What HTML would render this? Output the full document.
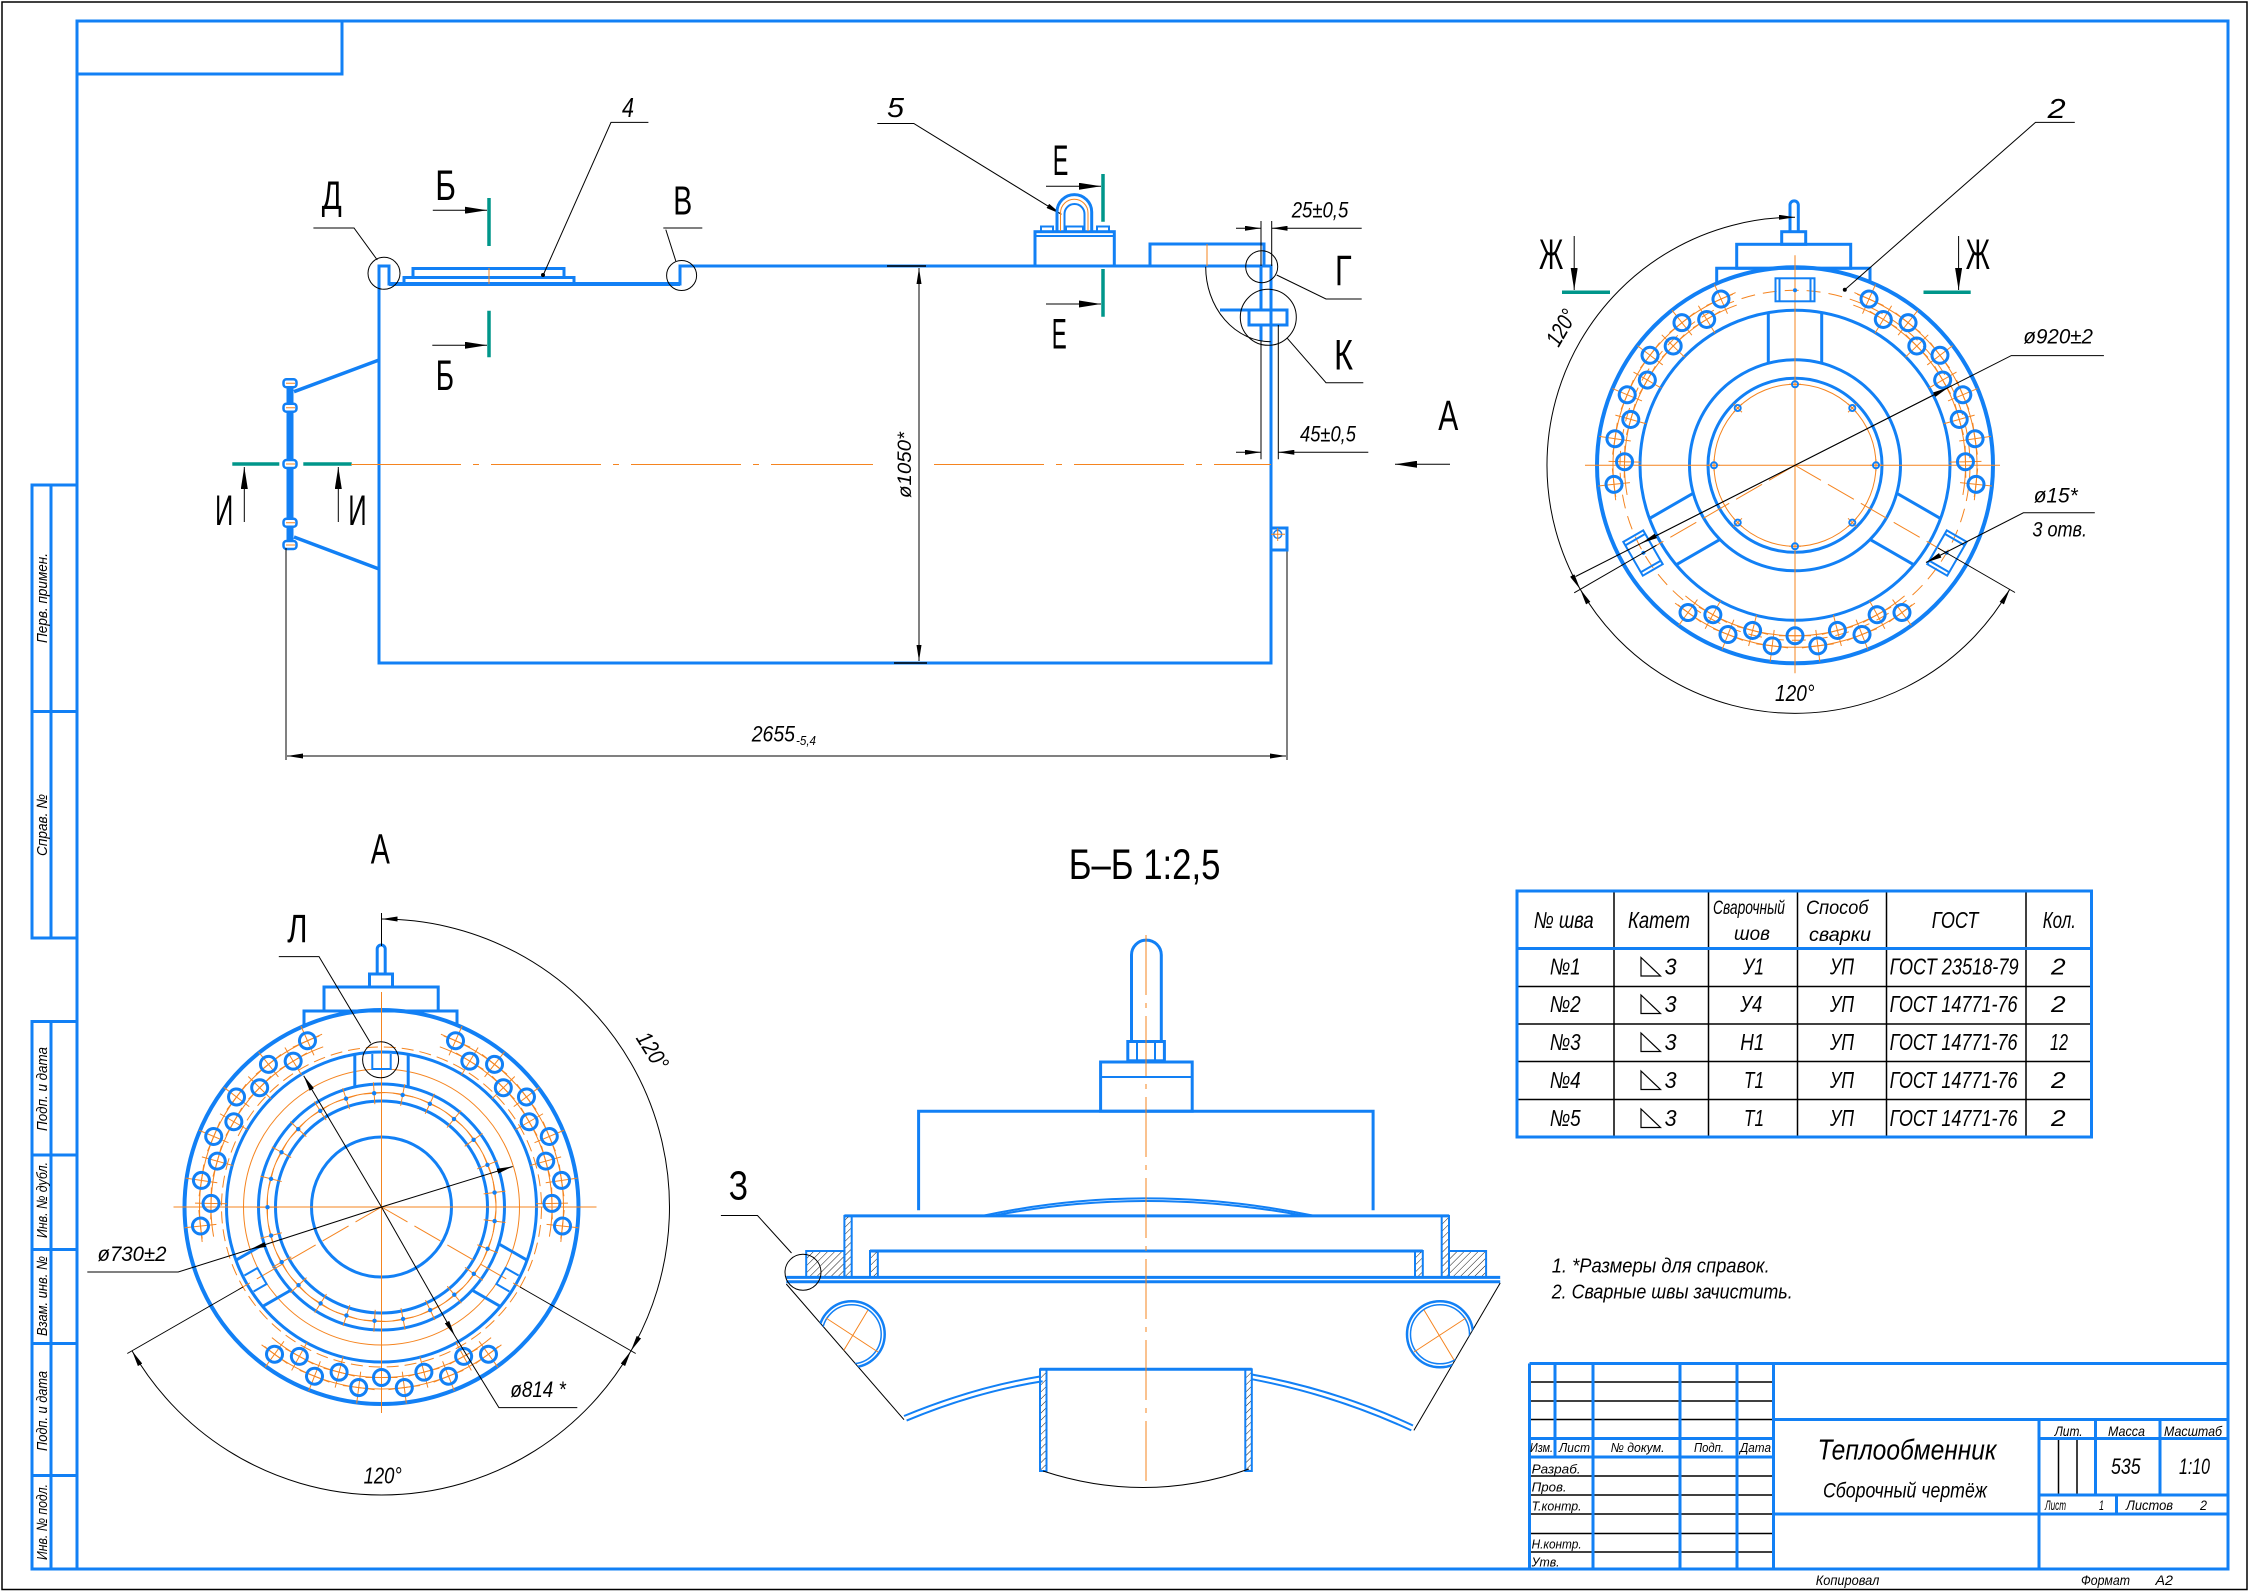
<!DOCTYPE html>
<html><head><meta charset="utf-8">
<style>
html,body{margin:0;padding:0;background:#fff;}
svg{display:block;}
.b{stroke:#1280f5;fill:none;stroke-width:3;}
.b2{stroke:#1280f5;fill:none;stroke-width:2;}
.b4{stroke:#1280f5;fill:none;stroke-width:4;}
.k{stroke:#000;fill:none;stroke-width:1;}
.kk{stroke:#000;fill:none;stroke-width:1.5;}
.o{stroke:#f5841f;fill:none;stroke-width:1;}
.t{stroke:#00968a;fill:none;stroke-width:3.5;}
.L{font-family:"Liberation Sans","DejaVu Sans",sans-serif;fill:#000;}
.I{font-family:"Liberation Sans","DejaVu Sans",sans-serif;font-style:italic;fill:#000;}
</style></head>
<body>
<svg xmlns="http://www.w3.org/2000/svg" xmlns:xlink="http://www.w3.org/1999/xlink" width="2249" height="1592" viewBox="0 0 2249 1592">
<defs>
<marker id="ar" viewBox="0 0 16 5" refX="16" refY="2.5" markerWidth="16" markerHeight="5" orient="auto-start-reverse" markerUnits="userSpaceOnUse"><path d="M0,0 L16,2.5 L0,5 Z" fill="#000"/></marker>
<marker id="as" viewBox="0 0 22 7" refX="22" refY="3.5" markerWidth="22" markerHeight="7" orient="auto-start-reverse" markerUnits="userSpaceOnUse"><path d="M0,0 L22,3.5 L0,7 Z" fill="#000"/></marker>
<pattern id="h" width="5" height="5" patternUnits="userSpaceOnUse" patternTransform="rotate(45)"><line x1="0" y1="0" x2="0" y2="5" stroke="#000" stroke-width="0.9"/></pattern>
<clipPath id="cone"><polygon points="786.3,1284 904,1419.7 1146,1500 1413.9,1430.4 1500.2,1283"/></clipPath>
<g id="ho"><path class="o" d="M-16,0H16M0,-16V16"/><circle r="8" fill="none" stroke="#1280f5" stroke-width="3"/></g>
<g id="hg">
<path class="o" d="M130.6,-109.6 A170.5,170.5 0 0 1 130.6,109.6"/>
<path class="o" d="M139.4,-117 A182,182 0 0 1 139.4,117"/>
<use href="#ho" x="170.5"/>
<use href="#ho" x="182" transform="rotate(7.2)"/>
<use href="#ho" x="182" transform="rotate(-7.2)"/>
<use href="#ho" x="170.5" transform="rotate(14.4)"/>
<use href="#ho" x="170.5" transform="rotate(-14.4)"/>
<use href="#ho" x="182" transform="rotate(21.6)"/>
<use href="#ho" x="182" transform="rotate(-21.6)"/>
<use href="#ho" x="170.5" transform="rotate(28.8)"/>
<use href="#ho" x="170.5" transform="rotate(-28.8)"/>
<use href="#ho" x="182" transform="rotate(36)"/>
<use href="#ho" x="182" transform="rotate(-36)"/>
</g>
<g id="arm1"><path class="b" d="M102,-26.7 H152.7 M102,26.7 H152.7"/></g>
<g id="brk"><rect class="b2" x="164" y="-19.5" width="23" height="39"/><path class="b2" d="M164,-15.5 H187 M164,15.5 H187"/><circle cx="175" cy="0" r="2" fill="#1280f5"/></g>
<g id="arm2"><path class="b" d="M120,-26.7 H152.7 M120,26.7 H152.7"/><path class="b2" d="M153,-9.2 H138 V9.2 H153"/></g>
<g id="mk"><path class="o" d="M103,0 H125 M114,-11 V11"/><circle cx="114" cy="0" r="2.2" fill="#1280f5"/></g>
<g id="bm"><path class="o" d="M-6,0H6M0,-6V6"/><circle r="3" fill="none" stroke="#1280f5" stroke-width="2"/></g>
</defs>

<rect x="0" y="0" width="2249" height="1592" fill="#fff"/>
<!-- outer frames -->
<rect x="2" y="2" width="2245" height="1587.5" fill="none" stroke="#000" stroke-width="1.5"/>
<rect class="b" x="77" y="21" width="2151" height="1548"/>
<rect class="b" x="77" y="21" width="265" height="53"/>

<!-- left column -->
<rect class="b" x="32" y="485" width="45" height="453"/>
<path class="b" d="M32,711.5 H77 M51,485 V938"/>
<rect class="b" x="32" y="1021.5" width="45" height="547.5"/>
<path class="b" d="M32,1155 H77 M32,1249.5 H77 M32,1343.5 H77 M32,1475.5 H77 M51,1021.5 V1569"/>
<g class="I" font-size="15">
<text transform="translate(47,598) rotate(-90)" text-anchor="middle" textLength="90" lengthAdjust="spacingAndGlyphs">Перв. примен.</text>
<text transform="translate(47,825) rotate(-90)" text-anchor="middle" textLength="62" lengthAdjust="spacingAndGlyphs">Справ. №</text>
<text transform="translate(47,1089) rotate(-90)" text-anchor="middle" textLength="84" lengthAdjust="spacingAndGlyphs">Подп. и дата</text>
<text transform="translate(47,1200) rotate(-90)" text-anchor="middle" textLength="76" lengthAdjust="spacingAndGlyphs">Инв. № дубл.</text>
<text transform="translate(47,1296) rotate(-90)" text-anchor="middle" textLength="80" lengthAdjust="spacingAndGlyphs">Взам. инв. №</text>
<text transform="translate(47,1411) rotate(-90)" text-anchor="middle" textLength="80" lengthAdjust="spacingAndGlyphs">Подп. и дата</text>
<text transform="translate(47,1522) rotate(-90)" text-anchor="middle" textLength="76" lengthAdjust="spacingAndGlyphs">Инв. № подл.</text>
</g>

<!-- ================= MAIN VIEW ================= -->
<path class="b" d="M379,663 L379,266 L389,266 L389,284 L680,284 L680,266 L1271,266 L1271,663 Z"/>
<path class="b4" d="M389,284 H680"/>
<rect class="b" x="404" y="277.5" width="170" height="6.5"/>
<rect class="b" x="413" y="268.5" width="151" height="9"/>
<path class="o" d="M489,268 V284"/>
<!-- left flange -->
<path d="M294,391.7 L379,360 M294,537 L379,569" stroke="#1280f5" stroke-width="3.5" fill="none"/>
<line x1="290" y1="380" x2="290" y2="548" stroke="#1280f5" stroke-width="7"/>
<g fill="#fff" stroke="#1280f5" stroke-width="2.5">
<rect x="283.5" y="379.3" width="13" height="8" rx="3"/>
<rect x="283.5" y="403.7" width="13" height="8" rx="3"/>
<rect x="283.5" y="460" width="13" height="8" rx="3"/>
<rect x="283.5" y="518.7" width="13" height="8" rx="3"/>
<rect x="283.5" y="541" width="13" height="8" rx="3"/>
</g>
<path class="o" d="M286,383.3H295 M286,407.7H295 M286,464H295 M286,522.7H295 M286,545H295"/>
<!-- И section -->
<path class="t" d="M232.3,464 H279.3 M303.3,464 H351.7"/>
<path class="k" d="M244.3,522 V467" marker-end="url(#as)"/>
<path class="k" d="M338.3,522 V467" marker-end="url(#as)"/>
<text x="215" y="525" class="L" font-size="43" textLength="18.3" lengthAdjust="spacingAndGlyphs">И</text>
<text x="348.3" y="525" class="L" font-size="43" textLength="18.4" lengthAdjust="spacingAndGlyphs">И</text>
<!-- centerline -->
<path class="o" d="M351,464.5 H873 M934,464.5 H1271" stroke-dasharray="110 12 6 12"/>
<!-- Ø1050 -->
<path class="k" d="M919,268 V661" marker-start="url(#ar)" marker-end="url(#ar)"/>
<path class="kk" d="M887,266 H926 M894,663 H927"/>
<text transform="translate(911,465) rotate(-90)" text-anchor="middle" class="I" font-size="19" textLength="66" lengthAdjust="spacingAndGlyphs">ø1050*</text>
<!-- 2655 -->
<path class="k" d="M286,548 V760 M1287,550 V760"/>
<path class="k" d="M287,756 H1286" marker-start="url(#ar)" marker-end="url(#ar)"/>
<text x="751.7" y="741.7" class="I" font-size="22" textLength="43.3" lengthAdjust="spacingAndGlyphs">2655</text>
<text x="796" y="745" class="I" font-size="13" textLength="20" lengthAdjust="spacingAndGlyphs">-5,4</text>
<!-- Д -->
<circle class="k" cx="384" cy="273.3" r="16"/>
<path class="k" d="M313.4,228 H354 L377.3,260"/>
<text x="321.7" y="209" class="L" font-size="40" textLength="20" lengthAdjust="spacingAndGlyphs">Д</text>
<!-- В -->
<circle class="k" cx="681.6" cy="275.5" r="15"/>
<path class="k" d="M663.3,228 H702.3 M665.8,229.6 L675.8,261"/>
<text x="673.3" y="214.3" class="L" font-size="41" textLength="19" lengthAdjust="spacingAndGlyphs">В</text>
<!-- 4 -->
<text x="622" y="117" class="I" font-size="28" textLength="12" lengthAdjust="spacingAndGlyphs">4</text>
<path class="k" d="M648.4,122.4 H611 L543,275.5"/>
<circle cx="543" cy="275" r="2" fill="#000"/>
<!-- 5 -->
<text x="887" y="117" class="I" font-size="28" textLength="17" lengthAdjust="spacingAndGlyphs">5</text>
<path class="k" d="M877.3,123.5 H913.8 L1061.4,214.3" marker-end="url(#ar)"/>
<!-- Б sections -->
<path class="t" d="M489,198 V246 M489,310.7 V357.3"/>
<path class="k" d="M432.8,210.2 H487" marker-end="url(#as)"/>
<path class="k" d="M432.3,345.3 H487" marker-end="url(#as)"/>
<text x="435.3" y="200" class="L" font-size="43" textLength="20.7" lengthAdjust="spacingAndGlyphs">Б</text>
<text x="435.7" y="390" class="L" font-size="43" textLength="18.3" lengthAdjust="spacingAndGlyphs">Б</text>
<!-- lifting block 5 -->
<rect class="b" x="1035" y="231.7" width="79.3" height="34.3"/>
<path class="b2" d="M1035,236 H1114.3"/>
<g class="b2"><rect x="1041" y="226.5" width="12" height="5"/><rect x="1066" y="226.5" width="17" height="5"/><rect x="1097" y="226.5" width="12" height="5"/></g>
<path class="b" d="M1057,231 V212 A17.3,17.3 0 0 1 1091.7,212 V231"/>
<path class="b2" d="M1064.5,231 V214 A10,10 0 0 1 1084.5,214 V231"/>
<path class="o" d="M1060.5,231 V213 A13.7,13.7 0 0 1 1088,213 V231"/>
<!-- Е sections -->
<path class="t" d="M1103,174 V221.7 M1103,269 V316.7"/>
<path class="k" d="M1046,186.3 H1101" marker-end="url(#as)"/>
<path class="k" d="M1046,304 H1101" marker-end="url(#as)"/>
<text x="1052.7" y="175" class="L" font-size="43" textLength="15.6" lengthAdjust="spacingAndGlyphs">Е</text>
<text x="1051.7" y="348.3" class="L" font-size="43" textLength="15" lengthAdjust="spacingAndGlyphs">Е</text>
<!-- right box -->
<rect class="b" x="1150" y="244" width="114" height="22"/>
<path class="o" d="M1207,244 V266"/>
<!-- right end details -->
<path class="b" d="M1261,266 V310 M1220,310 H1287 M1261,325 V341"/>
<rect class="b" x="1249" y="310" width="38" height="15"/>
<path class="k" d="M1205.7,266.7 A65,75 0 0 0 1270.7,341.7"/>
<rect class="b" x="1271" y="528" width="16" height="22"/>
<circle cx="1277.7" cy="534.3" r="4" fill="none" stroke="#1280f5" stroke-width="1.5"/>
<path class="o" d="M1271,534.3 H1285 M1277.7,528 V541"/>
<!-- Г, К -->
<circle class="k" cx="1261.7" cy="266.7" r="16"/>
<path class="k" d="M1276.7,275 L1326,299 H1361.7"/>
<text x="1335" y="285" class="L" font-size="43" textLength="16.7" lengthAdjust="spacingAndGlyphs">Г</text>
<circle class="k" cx="1268.3" cy="317.3" r="28"/>
<path class="k" d="M1287.3,338.3 L1326,382.7 H1363.3"/>
<text x="1334" y="369.3" class="L" font-size="43" textLength="19" lengthAdjust="spacingAndGlyphs">К</text>
<!-- 25±0,5 -->
<path class="k" d="M1261,221 V266 M1271.7,221 V266"/>
<path class="k" d="M1236,228.3 H1261" marker-end="url(#ar)"/>
<path class="k" d="M1361.7,228.3 H1271.7" marker-end="url(#ar)"/>
<text x="1291.7" y="217.7" class="I" font-size="22" textLength="56.6" lengthAdjust="spacingAndGlyphs">25±0,5</text>
<!-- 45±0,5 -->
<path class="k" d="M1261,341 V459.3 M1278.3,325 V459.3"/>
<path class="k" d="M1236,452.3 H1261" marker-end="url(#ar)"/>
<path class="k" d="M1368.3,452.3 H1278.3" marker-end="url(#ar)"/>
<text x="1300" y="441.7" class="I" font-size="22" textLength="56" lengthAdjust="spacingAndGlyphs">45±0,5</text>
<!-- А arrow -->
<text x="1438.3" y="430" class="L" font-size="43" textLength="20" lengthAdjust="spacingAndGlyphs">А</text>
<path class="k" d="M1450,464.3 H1395" marker-end="url(#as)"/>

<!-- ================= TOP RIGHT VIEW ================= -->
<!-- top attachment -->
<path class="b" d="M1716.7,283.4 V268.3 H1870 V282.1"/>
<rect class="b" x="1736.7" y="244.3" width="114" height="24"/>
<rect class="b" x="1781.7" y="231.7" width="24" height="12.6"/>
<path class="b" d="M1790,231 V205 A4.15,4.15 0 0 1 1798.3,205 V231"/>
<g transform="translate(1795,465.3)">
<circle r="198" class="b4"/>
<circle r="155" class="b"/>
<circle r="105.5" class="b"/>
<circle r="87" class="b"/>
<circle r="81" class="o"/>
<circle r="175" class="o" stroke-dasharray="14 8"/>
<path class="o" d="M-210,0 H205 M0,-210 V208"/>
<path class="o" d="M0,0 L-151.5,87.5 M0,0 L151.5,87.5" stroke-dasharray="30 8"/>
<use href="#bm" x="81"/>
<use href="#bm" x="81" transform="rotate(45)"/>
<use href="#bm" x="81" transform="rotate(90)"/>
<use href="#bm" x="81" transform="rotate(135)"/>
<use href="#bm" x="81" transform="rotate(180)"/>
<use href="#bm" x="81" transform="rotate(225)"/>
<use href="#bm" x="81" transform="rotate(270)"/>
<use href="#bm" x="81" transform="rotate(315)"/>
<use href="#arm1" transform="rotate(-90)"/>
<use href="#arm1" transform="rotate(150)"/>
<use href="#arm1" transform="rotate(30)"/>
<use href="#brk" transform="rotate(-90)"/>
<use href="#brk" transform="rotate(150)"/>
<use href="#brk" transform="rotate(30)"/>
<use href="#hg" transform="rotate(-30)"/>
<use href="#hg" transform="rotate(-150)"/>
<use href="#hg" transform="rotate(90)"/>
</g>
<!-- Ж -->
<path class="t" d="M1562,292.3 H1610 M1923.5,292.3 H1970.7"/>
<path class="k" d="M1574.2,236 V290" marker-end="url(#as)"/>
<path class="k" d="M1958.6,236 V290" marker-end="url(#as)"/>
<text x="1539" y="268.9" class="L" font-size="43" textLength="24.3" lengthAdjust="spacingAndGlyphs">Ж</text>
<text x="1965.8" y="268.9" class="L" font-size="43" textLength="24.2" lengthAdjust="spacingAndGlyphs">Ж</text>
<!-- 120° arcs -->
<path class="k" d="M1795,217.3 A248,248 0 0 0 1580.2,589.3" marker-start="url(#ar)" marker-end="url(#ar)"/>
<path class="k" d="M1580.2,589.3 A248,248 0 0 0 2009.8,589.3" marker-start="url(#ar)" marker-end="url(#ar)"/>
<path class="k" d="M1656.4,545.3 L1574.2,592.8 M1938,548 L2015,592.5"/>
<text transform="translate(1568,331.6) rotate(-60)" text-anchor="middle" class="I" font-size="23" textLength="38" lengthAdjust="spacingAndGlyphs">120°</text>
<text x="1775" y="701" class="I" font-size="23" textLength="39.5" lengthAdjust="spacingAndGlyphs">120°</text>
<!-- Ø920 -->
<path class="k" d="M1575.6,576.5 L2011.3,355.6 H2103.9"/>
<path class="k" d="M1795,465.3 L1948.4,387.5" marker-end="url(#ar)"/>
<path class="k" d="M1795,465.3 L1641.6,543.1" marker-end="url(#ar)"/>
<text x="2023.4" y="343.4" class="I" font-size="21" textLength="69.6" lengthAdjust="spacingAndGlyphs">ø920±2</text>
<!-- Ø15 -->
<path class="k" d="M2094.8,512.8 H2023.4 L1926,562.5" marker-end="url(#ar)"/>
<text x="2033.7" y="502.6" class="I" font-size="21" textLength="44" lengthAdjust="spacingAndGlyphs">ø15*</text>
<text x="2032.4" y="536.7" class="I" font-size="21" textLength="54.6" lengthAdjust="spacingAndGlyphs">3 отв.</text>
<!-- 2 -->
<text x="2047.6" y="118" class="I" font-size="28" textLength="18" lengthAdjust="spacingAndGlyphs">2</text>
<path class="k" d="M2074.8,122.4 H2035.5 L1844.8,289.8"/>
<circle cx="1844.8" cy="289.8" r="2" fill="#000"/>

<!-- ================= VIEW A ================= -->
<text x="370.7" y="863.4" class="L" font-size="43" textLength="19.1" lengthAdjust="spacingAndGlyphs">А</text>
<path class="b" d="M304,1025.9 V1011 H457 V1025"/>
<rect class="b" x="324" y="987" width="114.2" height="24"/>
<rect class="b" x="369.5" y="974" width="23" height="13"/>
<path class="b" d="M377.2,974 V949 A4,4 0 0 1 385.2,949 V974"/>
<g transform="translate(381.5,1207)">
<circle r="197" class="b4"/>
<circle r="155" class="b"/>
<circle r="123" class="b"/>
<circle r="106" class="b"/>
<circle r="70" class="b"/>
<circle r="138" class="o"/>
<circle r="114.5" class="o"/>
<circle r="160" class="o" stroke-dasharray="12 6"/>
<path class="o" d="M-208,0 H215 M0,-215 V206"/>
<path class="o" d="M0,0 L-143,82.5 M0,0 L143,82.5" stroke-dasharray="30 8"/>
<use href="#arm2" transform="rotate(-90)"/>
<use href="#arm2" transform="rotate(150)"/>
<use href="#arm2" transform="rotate(30)"/>
<g transform="rotate(-93.7)">
<use href="#mk"/><use href="#mk" transform="rotate(14.4)"/><use href="#mk" transform="rotate(28.8)"/><use href="#mk" transform="rotate(43.2)"/><use href="#mk" transform="rotate(57.6)"/>
<use href="#mk" transform="rotate(72)"/><use href="#mk" transform="rotate(86.4)"/><use href="#mk" transform="rotate(100.8)"/><use href="#mk" transform="rotate(115.2)"/><use href="#mk" transform="rotate(129.6)"/>
<use href="#mk" transform="rotate(144)"/><use href="#mk" transform="rotate(158.4)"/><use href="#mk" transform="rotate(172.8)"/><use href="#mk" transform="rotate(187.2)"/><use href="#mk" transform="rotate(201.6)"/>
<use href="#mk" transform="rotate(216)"/><use href="#mk" transform="rotate(230.4)"/><use href="#mk" transform="rotate(244.8)"/><use href="#mk" transform="rotate(259.2)"/><use href="#mk" transform="rotate(273.6)"/>
<use href="#mk" transform="rotate(288)"/><use href="#mk" transform="rotate(302.4)"/><use href="#mk" transform="rotate(316.8)"/><use href="#mk" transform="rotate(331.2)"/><use href="#mk" transform="rotate(345.6)"/>
</g>
<use href="#hg" transform="rotate(-30)"/>
<use href="#hg" transform="rotate(-150)"/>
<use href="#hg" transform="rotate(90)"/>
</g>
<!-- Л -->
<circle class="k" cx="380.6" cy="1059.8" r="18"/>
<path class="k" d="M278.8,956.6 H319 L370.7,1043.3"/>
<text x="287.2" y="942" class="L" font-size="40" textLength="20.3" lengthAdjust="spacingAndGlyphs">Л</text>
<!-- 120° arcs view A -->
<path class="k" d="M381.5,913 V946"/>
<path class="k" d="M381.5,919 A288,288 0 0 1 630.9,1351" marker-start="url(#ar)" marker-end="url(#ar)"/>
<path class="k" d="M132.1,1351 A288,288 0 0 0 630.9,1351" marker-start="url(#ar)" marker-end="url(#ar)"/>
<path class="k" d="M243,1287 L127.3,1353.5 M520,1287 L635.7,1353.5"/>
<text transform="translate(646,1055) rotate(58)" text-anchor="middle" class="I" font-size="23" textLength="40" lengthAdjust="spacingAndGlyphs">120°</text>
<text x="363.6" y="1483.6" class="I" font-size="23" textLength="38.2" lengthAdjust="spacingAndGlyphs">120°</text>
<!-- Ø730 -->
<path class="k" d="M381.5,1207 L512.7,1166.5" marker-end="url(#ar)"/>
<path class="k" d="M381.5,1207 L250.2,1249.4" marker-end="url(#ar)"/>
<path class="k" d="M250.2,1249.4 L178.2,1272 H87.3"/>
<text x="97.5" y="1261" class="I" font-size="21" textLength="69" lengthAdjust="spacingAndGlyphs">ø730±2</text>
<!-- Ø814 -->
<path class="k" d="M381.5,1207 L303.7,1075.8" marker-end="url(#ar)"/>
<path class="k" d="M381.5,1207 L454.9,1336" marker-end="url(#ar)"/>
<path class="k" d="M454.9,1336 L498.9,1407.6 H577.3"/>
<text x="510.4" y="1396.8" class="I" font-size="22" textLength="55.4" lengthAdjust="spacingAndGlyphs">ø814 *</text>

<!-- ================= SECTION Б-Б ================= -->
<text x="1068.7" y="879" class="L" font-size="43" textLength="151.7" lengthAdjust="spacingAndGlyphs">Б–Б 1:2,5</text>
<path class="b" d="M1131.5,1041.5 V955 A14.9,14.9 0 0 1 1161.3,955 V1041.5"/>
<rect class="b" x="1127.8" y="1041.5" width="36.6" height="19.3"/>
<path class="b2" d="M1137,1041.5 V1060.8 M1155,1041.5 V1060.8"/>
<rect class="b" x="1100.6" y="1062" width="91.6" height="49.2"/>
<path class="b2" d="M1100.6,1077 H1192.2"/>
<path class="b" d="M918.6,1210.3 V1111.2 H1373.1 V1210.3"/>
<path class="b2" d="M982.4,1215.9 Q1146,1180.9 1314.5,1215.9"/>
<path class="b2" d="M992,1215.9 Q1146,1186 1305,1215.9"/>
<path class="b" d="M844.4,1215.9 H1449"/>
<path class="b" d="M870,1251 H1422.8"/>
<g stroke="#1280f5" stroke-width="2" fill="url(#h)">
<rect x="844.4" y="1215.9" width="7.3" height="61.5"/>
<rect x="1441.7" y="1215.9" width="7.3" height="61.5"/>
<rect x="870" y="1251" width="7.8" height="26.4"/>
<rect x="1415" y="1251" width="7.8" height="26.4"/>
<rect x="806.2" y="1251" width="38.2" height="26.4"/>
<rect x="1449" y="1251" width="37.1" height="26.4"/>
<rect x="1040" y="1369.3" width="6.5" height="101.7"/>
<rect x="1245.3" y="1369.3" width="6.5" height="101.7"/>
</g>
<path class="b" d="M786.3,1277.4 H1500.2"/>
<path class="b" d="M786.3,1281.7 H1500.2"/>
<path class="k" d="M786.3,1284 L904,1419.7 M1500.2,1283 L1413.9,1430.4"/>
<g clip-path="url(#cone)">
<circle cx="851.7" cy="1334.3" r="33" fill="none" stroke="#1280f5" stroke-width="2.5"/>
<circle cx="851.7" cy="1334.3" r="29.5" fill="none" stroke="#1280f5" stroke-width="1.5"/>
<circle cx="1440" cy="1334.3" r="33" fill="none" stroke="#1280f5" stroke-width="2.5"/>
<circle cx="1440" cy="1334.3" r="29.5" fill="none" stroke="#1280f5" stroke-width="1.5"/>
<path class="o" d="M826,1318 L878,1352 M868,1310 L838,1360 M1414,1352 L1466,1318 M1424,1310 L1454,1360"/>
</g>
<path class="b2" d="M906.6,1420.6 Q975,1392 1042.6,1381.3"/>
<path class="b2" d="M904,1416 Q973,1387.5 1040,1376.5"/>
<path class="b2" d="M1251.8,1379.2 Q1335,1395 1411.3,1430.4"/>
<path class="b2" d="M1251.8,1374.5 Q1337,1390 1413,1425.5"/>
<path class="b" d="M1040,1369.3 H1251.8"/>
<path class="k" d="M1043,1471 Q1146,1505 1249,1469"/>
<path class="o" d="M1146,935 V1484" stroke-dasharray="60 8 5 8"/>
<!-- З -->
<circle class="k" cx="803" cy="1272.3" r="18"/>
<path class="k" d="M720.9,1215.5 H757.5 L791.5,1253"/>
<text x="728.8" y="1199.7" class="L" font-size="41" textLength="19.3" lengthAdjust="spacingAndGlyphs">З</text>

<!-- ================= TABLE ================= -->
<path class="kk" d="M1614,891 V1137 M1708.5,891 V1137 M1797.5,891 V1137 M1886.5,891 V1137 M2026,891 V1137 M1517,986.5 H2091.5 M1517,1024 H2091.5 M1517,1061.5 H2091.5 M1517,1099.5 H2091.5"/>
<rect class="b" x="1517" y="891" width="574.5" height="246"/>
<path class="b" d="M1517,948.5 H2091.5"/>
<g class="I">
<text x="1533.7" y="928" font-size="23" textLength="60" lengthAdjust="spacingAndGlyphs">№ шва</text>
<text x="1628" y="928" font-size="23" textLength="62" lengthAdjust="spacingAndGlyphs">Катет</text>
<text x="1713" y="914" font-size="19" textLength="72" lengthAdjust="spacingAndGlyphs">Сварочный</text>
<text x="1734" y="940" font-size="19" textLength="36" lengthAdjust="spacingAndGlyphs">шов</text>
<text x="1806" y="914" font-size="19" textLength="62.5" lengthAdjust="spacingAndGlyphs">Способ</text>
<text x="1809" y="941" font-size="19" textLength="62" lengthAdjust="spacingAndGlyphs">сварки</text>
<text x="1931.7" y="928" font-size="23" textLength="46.7" lengthAdjust="spacingAndGlyphs">ГОСТ</text>
<text x="2042.7" y="928" font-size="23" textLength="33.3" lengthAdjust="spacingAndGlyphs">Кол.</text>
</g>
<g class="I" font-size="23">
<text x="1549.7" y="974.5" textLength="31" lengthAdjust="spacingAndGlyphs">№1</text>
<text x="1549.7" y="1012" textLength="31" lengthAdjust="spacingAndGlyphs">№2</text>
<text x="1549.7" y="1050" textLength="31" lengthAdjust="spacingAndGlyphs">№3</text>
<text x="1549.7" y="1088" textLength="31" lengthAdjust="spacingAndGlyphs">№4</text>
<text x="1549.7" y="1126" textLength="31" lengthAdjust="spacingAndGlyphs">№5</text>
<text x="1664.6" y="974.5" textLength="12" lengthAdjust="spacingAndGlyphs">3</text>
<text x="1664.6" y="1012" textLength="12" lengthAdjust="spacingAndGlyphs">3</text>
<text x="1664.6" y="1050" textLength="12" lengthAdjust="spacingAndGlyphs">3</text>
<text x="1664.6" y="1088" textLength="12" lengthAdjust="spacingAndGlyphs">3</text>
<text x="1664.6" y="1126" textLength="12" lengthAdjust="spacingAndGlyphs">3</text>
<text x="1743" y="974.5" textLength="21" lengthAdjust="spacingAndGlyphs">У1</text>
<text x="1740.3" y="1012" textLength="22" lengthAdjust="spacingAndGlyphs">У4</text>
<text x="1740.3" y="1050" textLength="24" lengthAdjust="spacingAndGlyphs">Н1</text>
<text x="1744" y="1088" textLength="20" lengthAdjust="spacingAndGlyphs">Т1</text>
<text x="1744" y="1126" textLength="20" lengthAdjust="spacingAndGlyphs">Т1</text>
<text x="1830" y="974.5" textLength="24" lengthAdjust="spacingAndGlyphs">УП</text>
<text x="1830" y="1012" textLength="24" lengthAdjust="spacingAndGlyphs">УП</text>
<text x="1830" y="1050" textLength="24" lengthAdjust="spacingAndGlyphs">УП</text>
<text x="1830" y="1088" textLength="24" lengthAdjust="spacingAndGlyphs">УП</text>
<text x="1830" y="1126" textLength="24" lengthAdjust="spacingAndGlyphs">УП</text>
<text x="1889.6" y="974.5" textLength="129" lengthAdjust="spacingAndGlyphs">ГОСТ 23518-79</text>
<text x="1889.6" y="1012" textLength="128" lengthAdjust="spacingAndGlyphs">ГОСТ 14771-76</text>
<text x="1889.6" y="1050" textLength="128" lengthAdjust="spacingAndGlyphs">ГОСТ 14771-76</text>
<text x="1889.6" y="1088" textLength="128" lengthAdjust="spacingAndGlyphs">ГОСТ 14771-76</text>
<text x="1889.6" y="1126" textLength="128" lengthAdjust="spacingAndGlyphs">ГОСТ 14771-76</text>
<text x="2051" y="974.5" textLength="14.6" lengthAdjust="spacingAndGlyphs">2</text>
<text x="2051" y="1012" textLength="14.6" lengthAdjust="spacingAndGlyphs">2</text>
<text x="2050" y="1050" textLength="18" lengthAdjust="spacingAndGlyphs">12</text>
<text x="2051" y="1088" textLength="14.6" lengthAdjust="spacingAndGlyphs">2</text>
<text x="2051" y="1126" textLength="14.6" lengthAdjust="spacingAndGlyphs">2</text>
</g>
<path stroke="#000" stroke-width="1.2" fill="none" d="M1641,957.5 V976 H1660.5 Z M1641,995 V1013.5 H1660.5 Z M1641,1033 V1051.5 H1660.5 Z M1641,1071 V1089.5 H1660.5 Z M1641,1109 V1127.5 H1660.5 Z"/>

<!-- notes -->
<text x="1551.7" y="1272.7" class="I" font-size="20" textLength="218" lengthAdjust="spacingAndGlyphs">1. *Размеры для справок.</text>
<text x="1551.7" y="1298.5" class="I" font-size="20" textLength="241" lengthAdjust="spacingAndGlyphs">2. Сварные швы зачистить.</text>

<!-- ================= TITLE BLOCK ================= -->
<path class="kk" d="M1529.5,1382 H1773.5 M1529.5,1401 H1773.5 M1529.5,1419.5 H1773.5 M1529.5,1476 H1773.5 M1529.5,1495 H1773.5 M1529.5,1514 H1773.5 M1529.5,1533.5 H1773.5 M1529.5,1552 H1773.5 M2058.5,1438.5 V1495 M2077,1438.5 V1495"/>
<path class="b" d="M1529.5,1363.5 H2228 M1529.5,1363.5 V1569 M1555,1363.5 V1457 M1593,1363.5 V1569 M1680,1363.5 V1569 M1737,1363.5 V1569 M1773.5,1363.5 V1569 M1529.5,1438.5 H1773.5 M1529.5,1457 H1773.5 M1773.5,1419.5 H2228 M2039,1438.5 H2228 M2039,1495 H2228 M1773.5,1514 H2228 M2039,1419.5 V1569 M2095.5,1419.5 V1495 M2160,1419.5 V1495 M2116.5,1495 V1514"/>
<g class="I" font-size="13">
<text x="1530" y="1452" textLength="23" lengthAdjust="spacingAndGlyphs">Изм.</text>
<text x="1559" y="1452" textLength="31" lengthAdjust="spacingAndGlyphs">Лист</text>
<text x="1610.6" y="1452" textLength="54" lengthAdjust="spacingAndGlyphs">№ докум.</text>
<text x="1694" y="1452" textLength="30" lengthAdjust="spacingAndGlyphs">Подп.</text>
<text x="1740" y="1452" textLength="31" lengthAdjust="spacingAndGlyphs">Дата</text>
<text x="1531.6" y="1473.3" textLength="49" lengthAdjust="spacingAndGlyphs">Разраб.</text>
<text x="1531.6" y="1491.7" textLength="35" lengthAdjust="spacingAndGlyphs">Пров.</text>
<text x="1531.6" y="1510.7" textLength="50" lengthAdjust="spacingAndGlyphs">Т.контр.</text>
<text x="1531.6" y="1548.3" textLength="50" lengthAdjust="spacingAndGlyphs">Н.контр.</text>
<text x="1531.6" y="1566.7" textLength="28" lengthAdjust="spacingAndGlyphs">Утв.</text>
</g>
<text x="1817.5" y="1459.3" class="I" font-size="29" textLength="179" lengthAdjust="spacingAndGlyphs">Теплообменник</text>
<text x="1823" y="1497.7" class="I" font-size="21" textLength="164" lengthAdjust="spacingAndGlyphs">Сборочный чертёж</text>
<g class="I" font-size="14">
<text x="2054.6" y="1436" textLength="28" lengthAdjust="spacingAndGlyphs">Лит.</text>
<text x="2108" y="1436" textLength="37" lengthAdjust="spacingAndGlyphs">Масса</text>
<text x="2164" y="1436" textLength="58" lengthAdjust="spacingAndGlyphs">Масштаб</text>
<text x="2045" y="1510" textLength="21" lengthAdjust="spacingAndGlyphs">Лист</text>
<text x="2099" y="1510" textLength="5" lengthAdjust="spacingAndGlyphs">1</text>
<text x="2126" y="1510" textLength="47" lengthAdjust="spacingAndGlyphs">Листов</text>
<text x="2200" y="1510" textLength="7" lengthAdjust="spacingAndGlyphs">2</text>
<text x="1815.7" y="1585" textLength="63.7" lengthAdjust="spacingAndGlyphs">Копировал</text>
<text x="2081" y="1585" textLength="49" lengthAdjust="spacingAndGlyphs">Формат</text>
<text x="2155.5" y="1585" textLength="17.5" lengthAdjust="spacingAndGlyphs">А2</text>
</g>
<text x="2111" y="1474" class="I" font-size="22" textLength="29.6" lengthAdjust="spacingAndGlyphs">535</text>
<text x="2179" y="1474" class="I" font-size="22" textLength="31" lengthAdjust="spacingAndGlyphs">1:10</text>
</svg>
</body></html>
